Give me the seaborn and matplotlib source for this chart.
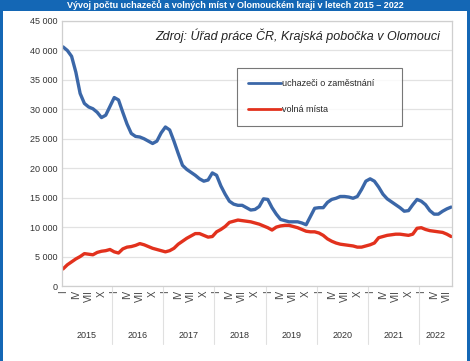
import numpy as np
import pandas as pd
import seaborn as sns
import matplotlib.pyplot as plt
from matplotlib.patches import Rectangle
import matplotlib.transforms as mtransforms

# monthly values, Jan 2015 - Aug 2022
years = [2015, 2016, 2017, 2018, 2019, 2020, 2021, 2022]
month_labels = ['I', 'IV', 'VII', 'X']

uchazeci = [40600, 40000, 39000, 36300, 32700, 31000, 30400, 30100, 29500, 28600, 29000, 30500,
            32000, 31600, 29500, 27500, 25900, 25400, 25300, 25000, 24600, 24200, 24600, 26000,
            27000, 26500, 24600, 22500, 20500, 19800, 19300, 18800, 18200, 17800, 18000, 19200,
            18800, 17000, 15600, 14400, 13900, 13700, 13700, 13300, 12900, 13000, 13500, 14800,
            14700, 13300, 12200, 11300, 11100, 10900, 10900, 10900, 10700, 10400, 11800, 13200,
            13300, 13300, 14200, 14700, 14900, 15200, 15200, 15100, 14900, 15200, 16400, 17800,
            18200, 17800, 16800, 15600, 14800, 14300, 13800, 13300, 12700, 12800, 13800, 14700,
            14400, 13800, 12800, 12200, 12200, 12700, 13100, 13400]

volna_mista = [2900, 3600, 4100, 4600, 5000, 5500, 5400, 5300, 5700, 5900, 6000, 6200,
               5800, 5600, 6300, 6600, 6700, 6900, 7200, 7000, 6700, 6400, 6200, 6000,
               5800, 6000, 6400, 7100, 7600, 8100, 8500, 8900, 8900, 8600, 8300, 8400,
               9200, 9600, 10100, 10800, 11000, 11200, 11100, 11000, 10900, 10700, 10500, 10200,
               9900, 9500, 10000, 10200, 10300, 10300, 10100, 9900, 9600, 9300, 9200, 9200,
               9000, 8600, 8000, 7600, 7300, 7100, 7000, 6900, 6800, 6600, 6600, 6800,
               7000, 7300, 8200, 8400, 8600, 8700, 8800, 8800, 8700, 8600, 8800, 9800,
               9900, 9600, 9400, 9300, 9200, 9100, 8800, 8400]

n = len(uchazeci)
df = pd.DataFrame({
    'mesic': list(range(n)) * 2,
    'pocet': uchazeci + volna_mista,
    'rada': ['uchazeči o zaměstnání'] * n + ['volná místa'] * n,
})

sns.set_style('white')
plt.rcParams['font.family'] = ['Liberation Sans', 'DejaVu Sans']

fig = plt.figure(figsize=(4.7, 3.61), dpi=100)
ax = fig.add_axes([62 / 470, 1 - 286 / 361, 390 / 470, 265 / 361])

sns.lineplot(data=df, x='mesic', y='pocet', hue='rada',
             palette={'uchazeči o zaměstnání': '#3b67a8', 'volná místa': '#e2311d'},
             linewidth=2.4, ax=ax)

ax.set_xlim(-0.25, n - 0.8)
ax.set_ylim(0, 45000)
ax.set_xlabel('')
ax.set_ylabel('')
ax.set_yticks(range(0, 45001, 5000))
ax.set_yticklabels(['0' if v == 0 else f'{v // 1000} 000' for v in range(0, 45001, 5000)],
                   fontsize=6.5, color='#333333')
ax.yaxis.grid(True, color='#e2e2e2', linewidth=0.9)
ax.set_axisbelow(True)

# month ticks (I, IV, VII, X) within each year
pos, labs = [], []
for i, y in enumerate(years):
    for k, lab in enumerate(month_labels):
        m = i * 12 + k * 3
        if m < n:
            pos.append(m)
            labs.append(lab)
ax.set_xticks(pos)
ax.set_xticklabels(labs, rotation=90, fontsize=7, color='#444444')
ax.tick_params(axis='both', length=0, pad=3)

for s in ax.spines.values():
    s.set_color('#cfcfcf')
    s.set_linewidth(0.9)

trans = mtransforms.blended_transform_factory(ax.transData, ax.transAxes)
for i, y in enumerate(years):
    start = i * 12 - 0.5
    end = min(i * 12 + 11.5, n - 0.8)
    ax.text((start + end) / 2, -0.185, str(y), transform=trans, ha='center', va='center',
            fontsize=6.5, color='#333333')
    if i > 0:
        ax.plot([start, start], [0, -0.22], transform=trans, color='#e0e0e0',
                linewidth=0.8, clip_on=False)

leg = ax.legend(loc='upper left', bbox_to_anchor=(0.449, 0.823, 0.423, 0.0), mode='expand',
                borderaxespad=0, fontsize=6.5, frameon=True, fancybox=False,
                edgecolor='#555555', handlelength=3.6, labelspacing=1.9, borderpad=1.25,
                handletextpad=0.1)
leg.get_frame().set_linewidth(0.8)
for h in leg.get_lines():
    h.set_linewidth(2)

ax.text(0.97, 0.943, 'Zdroj: Úřad práce ČR, Krajská pobočka v Olomouci', transform=ax.transAxes,
        ha='right', va='center', fontsize=9, style='italic', color='#222222',
        bbox=dict(facecolor='white', edgecolor='none', pad=1))

# blue frame and header bar
fig.patches.append(Rectangle((0, 1 - 11 / 361), 1, 11 / 361, transform=fig.transFigure,
                             facecolor='#1467b5', edgecolor='none'))
fig.patches.append(Rectangle((0, 0), 3 / 470, 1, transform=fig.transFigure,
                             facecolor='#1467b5', edgecolor='none'))
fig.patches.append(Rectangle((1 - 3 / 470, 0), 3 / 470, 1, transform=fig.transFigure,
                             facecolor='#1467b5', edgecolor='none'))
fig.text(0.5, 1 - 8.5 / 361, 'Vývoj počtu uchazečů a volných míst v Olomouckém kraji v letech 2015 – 2022',
         ha='center', va='baseline', color='white', fontsize=6.5, fontweight='bold')

fig.savefig('out.png', dpi=100)
